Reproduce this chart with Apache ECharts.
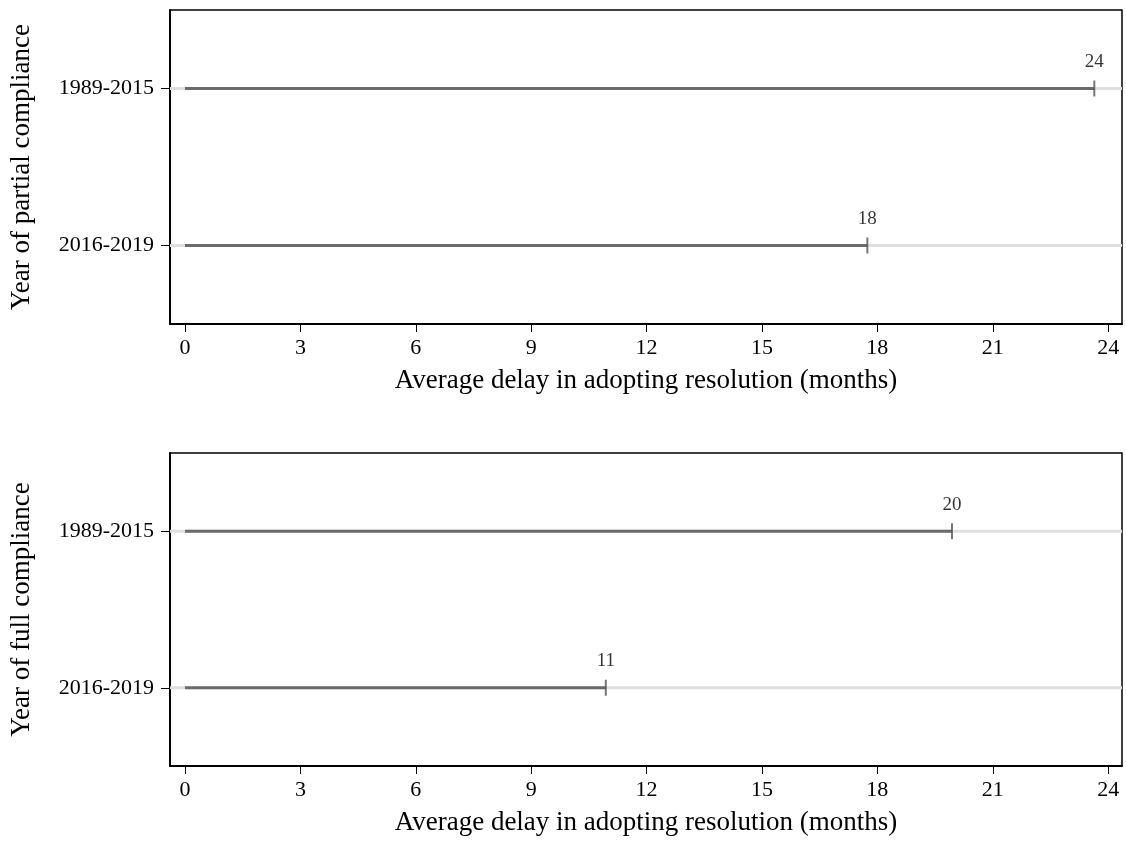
<!DOCTYPE html>
<html>
<head>
<meta charset="utf-8">
<script src="https://cdn.jsdelivr.net/npm/echarts@6/dist/echarts.min.js"></script>
<style>
html,body{margin:0;padding:0;background:#fff;}
#chart{width:1126px;height:844px;}
</style>
</head>
<body>
<div id="chart"></div>
<script>
const categories = ['1989-2015', '2016-2019'];
const partialValues = [23.64, 17.74];
const fullValues = [19.94, 10.94];
const xTicks = [0, 3, 6, 9, 12, 15, 18, 21, 24];
const yTitles = ['Year of partial compliance', 'Year of full compliance'];
const xTitle = 'Average delay in adopting resolution (months)';

const FONT = 'Liberation Serif';
const chart = echarts.init(document.getElementById('chart'));

const grids = [
  {left: 170, top: 10, width: 952, height: 314},
  {left: 170, top: 453, width: 952, height: 313}
];

function xAxisFor(i) {
  return {
    type: 'value', gridIndex: i, min: -0.39, max: 24.36,
    name: xTitle, nameLocation: 'middle', nameGap: 43,
    nameTextStyle: {fontFamily: FONT, fontSize: 27, color: '#000'},
    axisLine: {show: true, onZero: false, lineStyle: {color: '#000', width: 2}},
    axisTick: {show: true, customValues: xTicks, length: 8, lineStyle: {color: '#000', width: 1}},
    axisLabel: {customValues: xTicks, fontFamily: FONT, fontSize: 22, color: '#000', margin: 13},
    splitLine: {show: false}
  };
}
function yAxisFor(i) {
  return {
    type: 'category', gridIndex: i, data: categories, inverse: true,
    name: yTitles[i], nameLocation: 'middle', nameGap: 135,
    nameTextStyle: {fontFamily: FONT, fontSize: 27, color: '#000'},
    axisLine: {show: true, onZero: false, lineStyle: {color: '#000', width: 2}},
    axisTick: {show: true, alignWithLabel: true, length: 9, lineStyle: {color: '#000', width: 1}},
    axisLabel: {fontFamily: FONT, fontSize: 22, color: '#000', margin: 16},
    splitLine: {show: false}
  };
}
function seriesFor(i, values) {
  return [
    {
      type: 'bar', xAxisIndex: i, yAxisIndex: i, data: values,
      barWidth: 3, itemStyle: {color: '#6b6b6b'},
      showBackground: true, backgroundStyle: {color: '#e0e0e0'},
      silent: true
    },
    {
      type: 'scatter', xAxisIndex: i, yAxisIndex: i,
      data: values.map((v, k) => [v, categories[k]]),
      symbol: 'rect', symbolSize: [2, 16],
      itemStyle: {color: '#555'},
      label: {
        show: true, position: 'top', distance: 9,
        formatter: p => String(Math.round(p.value[0])),
        fontFamily: FONT, fontSize: 19, color: '#000'
      },
      silent: true
    }
  ];
}

chart.setOption({
  animation: false,
  grid: grids.map(g => Object.assign({show: true, borderColor: '#000', borderWidth: 1.5, backgroundColor: 'transparent'}, g)),
  xAxis: [xAxisFor(0), xAxisFor(1)],
  yAxis: [yAxisFor(0), yAxisFor(1)],
  series: [].concat(seriesFor(0, partialValues), seriesFor(1, fullValues))
});
</script>
</body>
</html>
